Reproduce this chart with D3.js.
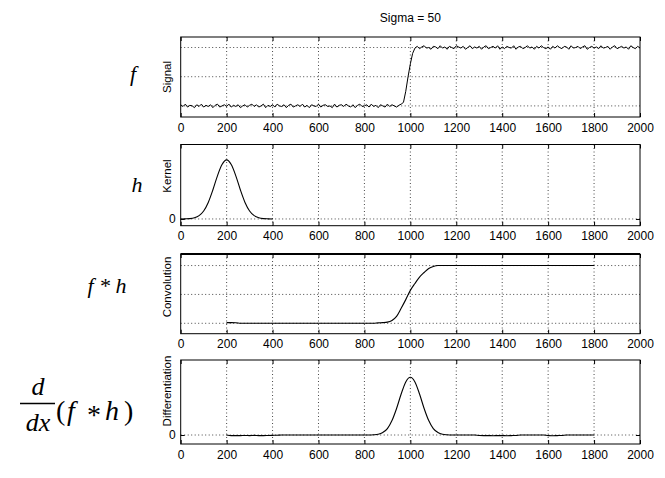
<!DOCTYPE html>
<html>
<head>
<meta charset="utf-8">
<script src="https://cdn.jsdelivr.net/npm/d3@7"></script>
<style>
  body { margin: 0; background: #fff; }
  text { font-family: "Liberation Sans", Arial, sans-serif; }
  .math { font-family: "Liberation Serif", "Times New Roman", serif; font-style: italic; }
</style>
</head>
<body>
<div id="container"></div>
<script>
/* CONSTANTS AND GLOBALS */
const width = 665,
  height = 478,
  left = 180.7,
  right = 640

const title = "Sigma = 50"
const xTicks = [0, 200, 400, 600, 800, 1000, 1200, 1400, 1600, 1800, 2000]

// signal: sampled every 10, from 0
const signalStart = 0, signalStep = 10
const signalValues = [
  0.02,-0.01,0.03,-0.02,0.01,0.00,-0.03,0.02,-0.01,0.03,
  -0.02,0.01,-0.01,0.02,-0.03,0.01,0.03,-0.02,0.00,0.02,
  -0.01,0.03,-0.02,0.01,-0.01,0.02,-0.03,0.00,0.02,-0.02,
  0.01,0.03,-0.01,0.02,-0.02,0.00,0.03,-0.03,0.01,-0.01,
  0.02,-0.02,0.03,0.00,-0.01,0.02,-0.03,0.01,0.03,-0.02,
  0.00,0.02,-0.01,0.03,-0.02,0.01,-0.03,0.02,0.00,-0.01,
  0.03,-0.02,0.01,0.02,-0.01,0.00,-0.03,0.03,-0.02,0.01,
  0.02,-0.01,0.03,0.00,-0.02,0.02,-0.03,0.01,0.03,-0.01,
  0.00,0.02,-0.02,0.03,-0.01,0.01,-0.03,0.02,0.00,-0.02,
  0.03,-0.01,0.02,0.00,-0.02,0.01,0.03,
  0.06,0.25,0.50,0.72,0.90,0.99,
  1.02,0.98,1.01,1.03,0.99,1.00,0.97,1.02,1.01,0.98,
  1.03,0.99,1.01,0.97,1.02,1.00,0.98,1.03,1.01,0.99,
  1.02,0.97,1.00,1.03,0.98,1.01,0.99,1.02,0.97,1.01,
  1.03,0.98,1.00,1.02,0.99,1.03,0.97,1.01,0.98,1.02,
  1.00,0.99,1.03,0.97,1.01,1.02,0.98,1.00,1.03,0.99,
  1.01,0.97,1.02,0.99,1.03,1.00,0.98,1.01,0.97,1.02,
  0.99,1.03,1.00,0.98,1.02,1.01,0.97,1.03,0.99,1.00,
  1.02,0.98,1.01,1.03,0.97,1.00,1.02,0.99,1.01,0.98,
  1.03,0.99,1.00,1.02,0.97,1.01,1.03,0.98,1.00,1.02,
  0.99,1.01,0.97,1.03,1.00,0.98,1.02,0.99
]

// kernel: every 20, from 0
const kernelStart = 0, kernelStep = 20
const kernelValues = [0,0.002,0.006,0.02,0.056,0.135,0.28,0.49,0.73,0.92,1,
  0.92,0.73,0.49,0.28,0.135,0.056,0.02,0.006,0.002,0]

// convolution: every 20, from 200
const convStart = 200, convStep = 20
const convValues = [
  0.012,0.012,0.01,0.002,
  0,0,0,0,0,0,0,0,0,0,0,0,0,0,0,0,0,0,0,0,0,0,0,0,0,0,0,0,0,
  0.008,0.012,0.02,0.05,0.12,0.26,0.41,0.57,0.69,0.80,0.88,0.95,0.985,
  1,
  1,1,1,1,1,1,1,1,1,1,1,1,1,1,1,1,1,1,1,1,1,1,1,1,1,1,1,1,1,1,1,1,1,1
]

// differentiation: every 20, from 200
const diffStart = 200, diffStep = 20
const diffValues = [
  0,-0.01,-0.01,-0.01,-0.008,-0.01,-0.006,-0.01,-0.01,-0.008,-0.006,-0.004,0,
  0,0,0,0,0,0,0,0,0,0,0,0,0,0,0,0,0,0,0,
  0.004,0.014,0.045,0.11,0.25,0.46,0.71,0.92,1,0.92,0.71,0.46,0.25,0.11,0.045,0.014,0.004,
  0,0,0,0,0,0,
  -0.008,-0.01,-0.01,-0.012,-0.01,-0.01,-0.012,-0.01,-0.008,
  0,0,0,0,0,0,
  -0.01,-0.012,-0.01,-0.008,
  0,0,0,0,0,0,0
]

const panels = [
  { label: "Signal", values: signalValues, start: signalStart, step: signalStep,
    top: 37, bottom: 117, yDomain: [-0.19, 1.18], yGrid: [0, 0.5, 1], yLabels: [], labelY: 77, curve: d3.curveLinear, lw: 1 },
  { label: "Kernel", values: kernelValues, start: kernelStart, step: kernelStep,
    top: 144.5, bottom: 225.7, yDomain: [-0.114, 1.26], yGrid: [0], yLabels: [0], labelY: 176, curve: d3.curveMonotoneX, lw: 1.1 },
  { label: "Convolution", values: convValues, start: convStart, step: convStep,
    top: 254, bottom: 333.7, yDomain: [-0.18, 1.2], yGrid: [0, 0.5, 1], yLabels: [], labelY: 287, curve: d3.curveMonotoneX, lw: 1.1, thickTop: true },
  { label: "Differentiation", values: diffValues, start: diffStart, step: diffStep,
    top: 360, bottom: 444, yDomain: [-0.156, 1.30], yGrid: [0], yLabels: [0], labelY: 391, curve: d3.curveMonotoneX, lw: 1.1 }
]

/* SCALES */
const xScale = d3.scaleLinear()
  .domain([0, 2000])
  .range([left, right])

/* HTML ELEMENTS */
const svg = d3.select("#container")
  .append("svg")
  .attr("width", width)
  .attr("height", height)
  .style("background", "#fff")

svg.append("text")
  .attr("x", xScale(1000))
  .attr("y", 22)
  .attr("text-anchor", "middle")
  .style("font-size", "12px")
  .text(title)

panels.forEach(p => {
  const yScale = d3.scaleLinear()
    .domain(p.yDomain)
    .range([p.bottom, p.top])

  const g = svg.append("g")

  // vertical grid
  g.selectAll("line.vgrid")
    .data(xTicks.slice(1, -1))
    .join("line")
    .attr("class", "vgrid")
    .attr("x1", d => xScale(d)).attr("x2", d => xScale(d))
    .attr("y1", p.top).attr("y2", p.bottom)
    .attr("stroke", "#333")
    .attr("stroke-width", 0.9)
    .attr("stroke-dasharray", "1,2.5")

  // horizontal grid
  g.selectAll("line.hgrid")
    .data(p.yGrid)
    .join("line")
    .attr("class", "hgrid")
    .attr("x1", left).attr("x2", right)
    .attr("y1", d => yScale(d)).attr("y2", d => yScale(d))
    .attr("stroke", "#333")
    .attr("stroke-width", 0.9)
    .attr("stroke-dasharray", "1,2.5")

  // curve
  const line = d3.line()
    .x((d, i) => xScale(p.start + i * p.step))
    .y(d => yScale(d))
    .curve(p.curve)

  g.append("path")
    .datum(p.values)
    .attr("d", line)
    .attr("fill", "none")
    .attr("stroke", "#000")
    .attr("stroke-width", p.lw)

  // axes
  const xAxis = d3.axisBottom(xScale).tickValues(xTicks).tickSize(-4).tickPadding(6).tickFormat(d3.format("d"))
  const gx = g.append("g")
    .attr("transform", `translate(0,${p.bottom})`)
    .call(xAxis)
  gx.select(".domain").remove()
  gx.selectAll("text").style("font-size", "12px").style("font-family", "'Liberation Sans', Arial, sans-serif")

  const gxt = g.append("g")
    .attr("transform", `translate(0,${p.top})`)
    .call(d3.axisTop(xScale).tickValues(xTicks).tickSize(-4).tickFormat(""))
  gxt.select(".domain").remove()

  const yAxis = d3.axisLeft(yScale).tickValues(p.yLabels).tickSize(-4).tickPadding(5).tickFormat(d3.format("d"))
  const gy = g.append("g")
    .attr("transform", `translate(${left},0)`)
    .call(yAxis)
  gy.select(".domain").remove()
  gy.selectAll("text").style("font-size", "12px").style("font-family", "'Liberation Sans', Arial, sans-serif")

  const gyr = g.append("g")
    .attr("transform", `translate(${right},0)`)
    .call(d3.axisRight(yScale).tickValues(p.yLabels).tickSize(-4).tickFormat(""))
  gyr.select(".domain").remove()

  // box
  g.append("rect")
    .attr("x", left).attr("y", p.top)
    .attr("width", right - left).attr("height", p.bottom - p.top)
    .attr("fill", "none")
    .attr("stroke", "#000")
    .attr("stroke-width", 1)

  if (p.thickTop) {
    g.append("line")
      .attr("x1", left).attr("x2", right)
      .attr("y1", p.top).attr("y2", p.top)
      .attr("stroke", "#000").attr("stroke-width", 2.2)
  }

  // y label
  g.append("text")
    .attr("transform", `translate(171,${p.labelY}) rotate(-90)`)
    .attr("text-anchor", "middle")
    .style("font-size", "11.5px")
    .text(p.label)
})

/* MATH LABELS */
svg.append("text").attr("class", "math")
  .attr("x", 133).attr("y", 81).attr("text-anchor", "middle")
  .style("font-size", "22px").text("f")

svg.append("text").attr("class", "math")
  .attr("x", 137).attr("y", 192).attr("text-anchor", "middle")
  .style("font-size", "22px").text("h")

svg.append("text").attr("class", "math")
  .attr("x", 107).attr("y", 293).attr("text-anchor", "middle")
  .style("font-size", "22px").text("f * h")

const frac = svg.append("g")
frac.append("text").attr("class", "math")
  .attr("x", 38).attr("y", 395).attr("text-anchor", "middle")
  .style("font-size", "26px").text("d")
frac.append("line")
  .attr("x1", 20).attr("x2", 55).attr("y1", 403.5).attr("y2", 403.5)
  .attr("stroke", "#000").attr("stroke-width", 1.3)
frac.append("text").attr("class", "math")
  .attr("x", 38).attr("y", 431).attr("text-anchor", "middle")
  .style("font-size", "26px").text("dx")

const paren = frac.append("text")
  .attr("y", 420)
  .style("font-size", "28px")
  .style("font-family", "'Liberation Serif', serif")
paren.append("tspan").attr("x", 56).text("(")
paren.append("tspan").attr("x", 67).style("font-style", "italic").text("f")
paren.append("tspan").attr("x", 87).attr("dy", 4).style("font-size", "28px").text("*")
paren.append("tspan").attr("x", 105).attr("dy", -4).style("font-style", "italic").text("h")
paren.append("tspan").attr("x", 124).text(")")
</script>
</body>
</html>
